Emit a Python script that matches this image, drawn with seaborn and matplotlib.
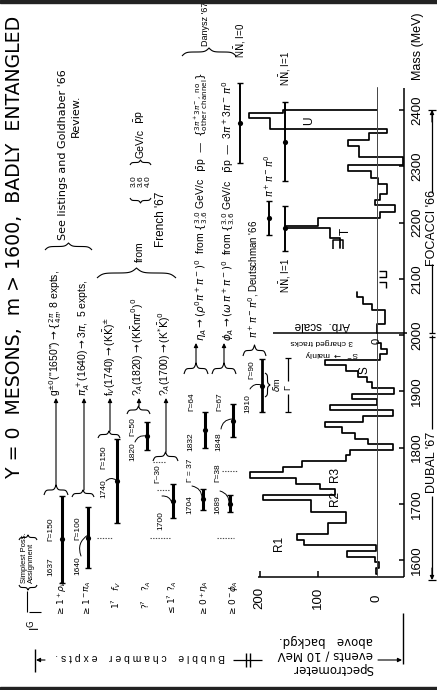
import numpy as np
import pandas as pd
import matplotlib
matplotlib.use("Agg")
import matplotlib.pyplot as plt
import matplotlib.transforms as mtransforms
from matplotlib.patches import Rectangle
import seaborn as sns

# ---------------- DATA ----------------
# Dubal '67 spectrometer: events / 10 MeV above background
dubal_edges = [1576, 1586, 1596, 1606, 1616, 1626, 1636, 1646, 1656, 1666,
               1676, 1686, 1696, 1706, 1716, 1726, 1736, 1746, 1756, 1766,
               1776, 1786, 1796, 1806, 1816, 1826, 1836, 1846, 1856, 1866,
               1876, 1886, 1896, 1906, 1916, 1926, 1936, 1946, 1956, 1966,
               1976, 1986]
dubal_counts = [2, -4, 3, 50, 2, 125, 136, 84, 84, 52,
                52, 113, 113, 195, 72, 97, 138, 217, 160, 128,
                52, 45, -28, 15, 37, 60, 88, 23, -28, 80,
                0, 43, -30, 8, 17, 32, 52, 88, -5, -17,
                -8]
# Focacci '66 missing-mass spectrometer (arbitrary scale)
foc_low_edges = [2003, 2020, 2044, 2056, 2068, 2077]
foc_low_counts = [0, -14, 8, 23, 34]
foc_edges = [2155, 2173, 2191, 2194, 2208, 2219, 2231, 2240, 2250, 2268,
             2280, 2291, 2302, 2316, 2336, 2347, 2359, 2367, 2385, 2395, 2400]
foc_counts = [63, 80, 157, 100, -5, -31, 3, -6, -17, -2,
              9, 49, -45, 31, 49, 13, -17, 182, 219, 160]

# Bubble chamber resonances
bc_mass = [1637, 1640, 1740, 1820, 1705, 1832, 1848]
bc_width = [155, 110, 150, 50, 60, 64, 60]
bc_assign = [r'$\rho_V$', r'$\pi_A$', r'$f_V$', r'$?_A$', r'$?_A$', r'$\eta_A$', r'$\phi_A$']
bc_IG = [r'$\geq1^+$', r'$\geq1^-$', r'$1^?$', r'$?^?$', r'$\leq1^?$', r'$\geq0^+$', r'$\geq0^-$']
bc_mass_lbl = ['1637', '1640', '1740', '1820', '1700', '1832', '1848']
bc_width_lbl = ['Γ=150', 'Γ=100', 'Γ=150', 'Γ=50', 'Γ~30', 'Γ=64', 'Γ=67']
alt_mass = [1708, 1700]
alt_width = [37, 30]
alt_lbl = ['1704', '1689']
alt_width_lbl = ['Γ = 37', 'Γ=38']
deut_mass = [1910]
deut_width = [95]
foc_res_mass = [2190, 2344, 2377, 2208]
foc_res_width = [80, 142, 142, 60]
foc_res_lbl = [r'N$\bar{\rm N}$, I=1', r'N$\bar{\rm N}$, I=1', r'N$\bar{\rm N}$, I=0', r'$\pi^+\pi^-\pi^0$']

mass_ticks = [1600, 1700, 1800, 1900, 2000, 2100, 2200, 2300, 2400]
event_ticks = [200, 100, 0]

decays = [r'g$^{\pm0}$("1650")$\rightarrow\{^{2\pi}_{4\pi}$, 8 expts,',
          r'$\pi_A^+$(1640)$\rightarrow$3$\pi$,  5 expts,',
          r'f$_V$(1740)$\rightarrow$(K$\bar{\rm K}$)$^{\pm}$',
          r'?$_A$(1820)$\rightarrow$(K$\bar{\rm K}$n$\pi^0$)$^0$',
          r'?$_A$(1700)$\rightarrow$(K$^{*}\bar{\rm K}$)$^0$']
danysz = [r'$\eta_A\rightarrow(\rho^0\pi^+\pi^-)^0$  from $\{^{3.0}_{3.6}$ GeV/c   $\bar{\rm p}$p  —  $\{^{3\pi^+3\pi^-,\ \mathrm{no}}_{\mathrm{other\ channel}}\}$',
          r'$\phi_A\rightarrow(\omega\,\pi^+\pi^-)^0$  from $\{^{3.0}_{3.6}$ GeV/c   $\bar{\rm p}$p  —  3$\pi^+$3$\pi^-\,\pi^0$']

# ---------------- LAYOUT ----------------
W, H = 437, 690
sns.set_theme(style="white")
plt.rcParams['font.family'] = ['Liberation Sans', 'DejaVu Sans']
plt.rcParams['mathtext.fontset'] = 'dejavusans'

fig = plt.figure(figsize=(W / 100, H / 100), dpi=100)
ax = fig.add_axes([0, 0, 1, 1])
X0, XS = 376.7, 0.585      # pixel of zero events, px per event
Y0, YS = 560.0, 0.5625     # pixel of 1600 MeV, px per MeV


def ev(px):
    return (X0 - px) / XS


def ms(py):
    return 1600 + (Y0 - py) / YS


ax.set_xlim(ev(0), ev(W))
ax.set_ylim(ms(H), ms(0))
P = mtransforms.Affine2D().scale(1 / W, -1 / H).translate(0, 1) + fig.transFigure
K = 'black'


def T(x, y, s, rot=90, size=7, ha='center', va='center', **kw):
    ax.text(x, y, s, transform=P, rotation=rot, fontsize=size, ha=ha, va=va,
            rotation_mode='anchor', color=K, **kw)


def L(xs, ys, lw=0.9, **kw):
    ax.plot(xs, ys, transform=P, color=K, lw=lw, clip_on=False, solid_capstyle='butt', **kw)


def arrow(x0, y0, x1, y1, lw=0.8, style='-|>', rad=0.0):
    ax.annotate('', xy=(x1, y1), xytext=(x0, y0), xycoords=P, textcoords=P,
                arrowprops=dict(arrowstyle=style, lw=lw, color=K, mutation_scale=6,
                                shrinkA=0, shrinkB=0,
                                connectionstyle=f'arc3,rad={rad}'))


def brace_shape(n=41, beta=28.0):
    t = np.linspace(0, 0.5, n)
    yh = 1 / (1 + np.exp(-beta * (t - t[0]))) + 1 / (1 + np.exp(-beta * (t - t[-1])))
    y = np.concatenate((yh, yh[-2::-1])) - 0.5
    return np.linspace(0, 1, len(y)), y


def hbrace(x0, x1, y, h, lw=0.8):
    t, s = brace_shape()
    L(x0 + (x1 - x0) * t, y - h * s, lw=lw)


def vbrace(y0, y1, x, h, lw=0.8):
    t, s = brace_shape()
    L(x + h * s, y0 + (y1 - y0) * t, lw=lw)


def step_df(edges, counts, close_start=True, close_end=True):
    xs, ys = [], []
    if close_start:
        xs.append(0); ys.append(edges[0])
    for i, c in enumerate(counts):
        xs += [c, c]; ys += [edges[i], edges[i + 1]]
    if close_end:
        xs.append(0); ys.append(edges[-1])
    return pd.DataFrame({'events': xs, 'mass': ys})


# ---------------- HISTOGRAMS ----------------
for df in [step_df(dubal_edges, dubal_counts),
           step_df(foc_low_edges, foc_low_counts, close_end=False),
           step_df(foc_edges, foc_counts, close_start=False)]:
    sns.lineplot(data=df, x='events', y='mass', sort=False, estimator=None,
                 color=K, lw=1.25, ax=ax)

ax.plot([0, 0], [ms(575), ms(87)], color='#444444', lw=0.7)
L([333, 333, 343, 343], [249, 240, 240, 249], lw=1.1)
L([379, 386, 386, 379], [271, 271, 277, 277], lw=1.0)
L([379, 386, 386], [282, 282, 288], lw=1.0)

# ---------------- AXES ----------------
L([258, 404], [577, 577], lw=1.1)
for e in event_ticks:
    xp = X0 - XS * e
    if e:
        L([xp, xp], [577, 571], lw=1.1)
    T(xp, 598, str(e), size=9.5)
L([404, 404], [577, 88], lw=1.1)
for m in mass_ticks:
    yp = Y0 - YS * (m - 1600)
    L([404, 399], [yp, yp], lw=1.1)
    T(417, yp, str(m), size=9.5)
T(418, 80, 'Mass (MeV)', size=9, ha='left')

T(432, 462, "DUBAL '67", size=9)
L([432, 432], [578, 496], lw=0.9)
L([432, 432], [429, 335], lw=0.9)
arrow(432, 568, 432, 580)
L([428, 436], [580, 580], lw=0.9)
L([429, 435], [333, 333], lw=0.9)
L([429, 435], [337, 337], lw=0.9)
T(432, 228, "FOCACCI '66", size=9)
L([432, 432], [333, 264], lw=0.9)
L([432, 432], [193, 110], lw=0.9)
arrow(432, 122, 432, 110)
L([428, 436], [110, 110], lw=0.9)

L([273, 407], [333, 333], lw=1.1)
T(322, 325, 'Arb.  scale', rot=180, size=8.5)
T(377, 341, '0', size=8)
T(322, 341.5, '3 charged tracks', rot=180, size=6)
T(332, 353, r'S$^-$ $\rightarrow$ mainly', rot=180, size=6)

for x, y, s in [(279, 543, 'R1'), (335, 498, 'R2'), (335, 474, 'R3'),
                (364, 370, 'S'), (346, 231, 'T'), (309, 121, 'U')]:
    T(x, y, s, size=8.5)

# ---------------- RESONANCES ----------------
bc_px = [62, 88, 117, 147, 173, 205, 233]
alt_px = [203, 230]
deut_px = [262]
foc_px = [285, 285, 240, 269]

for pxs, mass, width, lw in [(bc_px, bc_mass, bc_width, 2.2),
                             (alt_px, alt_mass, alt_width, 2.2),
                             (deut_px, deut_mass, deut_width, 2.0),
                             (foc_px, foc_res_mass, foc_res_width, 1.4)]:
    xe = [ev(p) for p in pxs]
    ax.errorbar(xe, mass, yerr=np.array(width) / 2, fmt='none', ecolor=K,
                elinewidth=lw, capsize=2.5, capthick=1.0)
    sns.scatterplot(x=xe, y=mass, color=K, s=14, ax=ax, zorder=5, linewidth=0)

# header
T(14, 478, 'Y = 0  MESONS,  m > 1600,  BADLY  ENTANGLED', size=13.6, ha='left',
  family='DejaVu Sans')
T(35, 625, r'I$^{\rm G}$', size=8.5)
L([29, 41], [612, 612], lw=0.8)
T(24, 583, 'Simplest Poss.', size=5.5, ha='left')
T(31, 583, 'Assignment', size=5.5, ha='left')
hbrace(19, 37, 585, -5)
hbrace(19, 37, 540, 5)
L([27, 27], [591, 612], lw=0.8)
for px_, ig, asg in zip(bc_px, bc_IG, bc_assign):
    T(px_ - 1, 604, ig, size=6.5)
    T(px_, 586, asg, size=6.5)

lbl_pos = [((51, 576), (51, 541)), ((78, 575), (78, 540)), ((104, 498), (104, 469)),
           ((133, 461), (133, 436)), ((161, 530), (158, 483)), ((191, 451), (192, 411)),
           ((219, 451), (220, 411))]
for (p1, p2), ml, wl in zip(lbl_pos, bc_mass_lbl, bc_width_lbl):
    T(p1[0], p1[1], ml, size=6, ha='left')
    T(p2[0], p2[1], wl, size=6, ha='left')
for (x, y), ml in zip([(190, 514), (218, 514)], alt_lbl):
    T(x, y, ml, size=6, ha='left')
for (x, y), wl in zip([(190, 482), (218, 482)], alt_width_lbl):
    T(x, y, wl, size=6, ha='left')
T(248, 413, '1910', size=6, ha='left')
T(252, 379, 'Γ=90', size=6, ha='left')

for a, b in [((81, 556), (88, 535)), ((106, 481), (116, 480)), ((135, 442), (146, 436)),
             ((162, 496), (172, 503)), ((192, 486), (202, 498)), ((220, 491), (229, 504)),
             ((221, 429), (232, 419)), ((250, 389), (261, 385))]:
    arrow(a[0], a[1], b[0], b[1], lw=0.7, style='-', rad=-0.4)

for x0, x1, y in [(97, 113, 538), (150, 170, 538), (217, 234, 538),
                  (157, 170, 490), (222, 238, 471), (153, 166, 462)]:
    L([x0, x1], [y, y], lw=0.8, ls=(0, (1.2, 1.2)), alpha=0.7)

br = [(44, 68, 495, 10, 56), (72, 94, 497, 7, 84), (98, 120, 438, 7, 110),
      (127, 150, 414, 8, 139), (153, 178, 461, 9, 166)]
for x0, x1, y, h, xa in br:
    hbrace(x0, x1, y, h)
    arrow(xa, y - h, xa, 398)
for txt, xt in zip(decays, [56, 84, 110, 138, 165]):
    T(xt, 396, txt, size=7.5, ha='left')

hbrace(184, 208, 374, 11)
hbrace(212, 236, 374, 11)
arrow(196, 363, 196, 343)
arrow(224, 363, 224, 343)
T(201, 341, danysz[0], size=7.5, ha='left')
T(229, 341, danysz[1], size=7.5, ha='left')
hbrace(182, 236, 56, 8)
T(206, 46, "Danysz '67", size=6.5, ha='left')

hbrace(243, 266, 356, 11)
T(254, 338, r"$\pi^+\pi^-\pi^0$, Deutschman '66", size=7, ha='left')
vbrace(373, 397, 265, 5)
T(276.5, 385, r'$\delta$m', size=6.5)
L([288, 288], [358, 381], lw=0.9)
L([288, 288], [394, 412], lw=0.9)
L([285, 291], [358, 358], lw=0.9)
L([285, 291], [412, 412], lw=0.9)
T(288, 387.5, 'Γ', size=6.5)

hbrace(45, 92, 250, 7)
T(63, 240, "See listings and Goldhaber '66", size=8, ha='left', family='DejaVu Sans')
T(76, 137, 'Review.', size=8, ha='left', family='DejaVu Sans')
hbrace(97, 176, 278, 10)
T(140, 262, 'from', size=7.5, ha='left')
hbrace(130, 151, 198, -5)
hbrace(130, 151, 165, 5)
for x, s in [(134, '3.0'), (141, '3.6'), (148, '4.0')]:
    T(x, 181, s, size=6)
T(140, 158, 'GeV/c', size=7.5, ha='left')
T(140, 124, r'$\bar{\rm p}$p', size=7.5, ha='left')
T(161, 247, "French '67", size=8.5, ha='left')

T(285, 293, foc_res_lbl[0], size=7, ha='left')
T(285, 86, foc_res_lbl[1], size=7, ha='left')
T(240, 58, foc_res_lbl[2], size=7, ha='left')
T(269, 197, foc_res_lbl[3], size=7, ha='left')

T(140, 657, 'B u b b l e    c h a m b e r    e x p t s .', rot=180, size=7.5)
L([35, 35], [649, 672], lw=1.0)
arrow(45, 660, 36, 660)
L([233, 262], [660, 660], lw=0.9)
L([246, 246], [653, 667], lw=1.0)
L([250, 250], [653, 667], lw=1.0)
for y, s in [(669, 'Spectrometer'), (655, 'events / 10 MeV'), (641, 'above   backgd.')]:
    T(373, y, s, rot=180, size=8.5, ha='left', family='DejaVu Sans')
arrow(378, 660, 402, 660)
L([403, 403], [613, 664], lw=1.0)

fig.patches.append(Rectangle((0, 1 - 3 / H), 1, 3 / H, transform=fig.transFigure,
                             color='#222222', zorder=0))
fig.patches.append(Rectangle((0, 0), 1, 3 / H, transform=fig.transFigure,
                             color='#222222', zorder=0))

ax.set_xlim(ev(0), ev(W))
ax.set_ylim(ms(H), ms(0))
ax.axis('off')
fig.savefig('out.png', dpi=100, facecolor='white')
